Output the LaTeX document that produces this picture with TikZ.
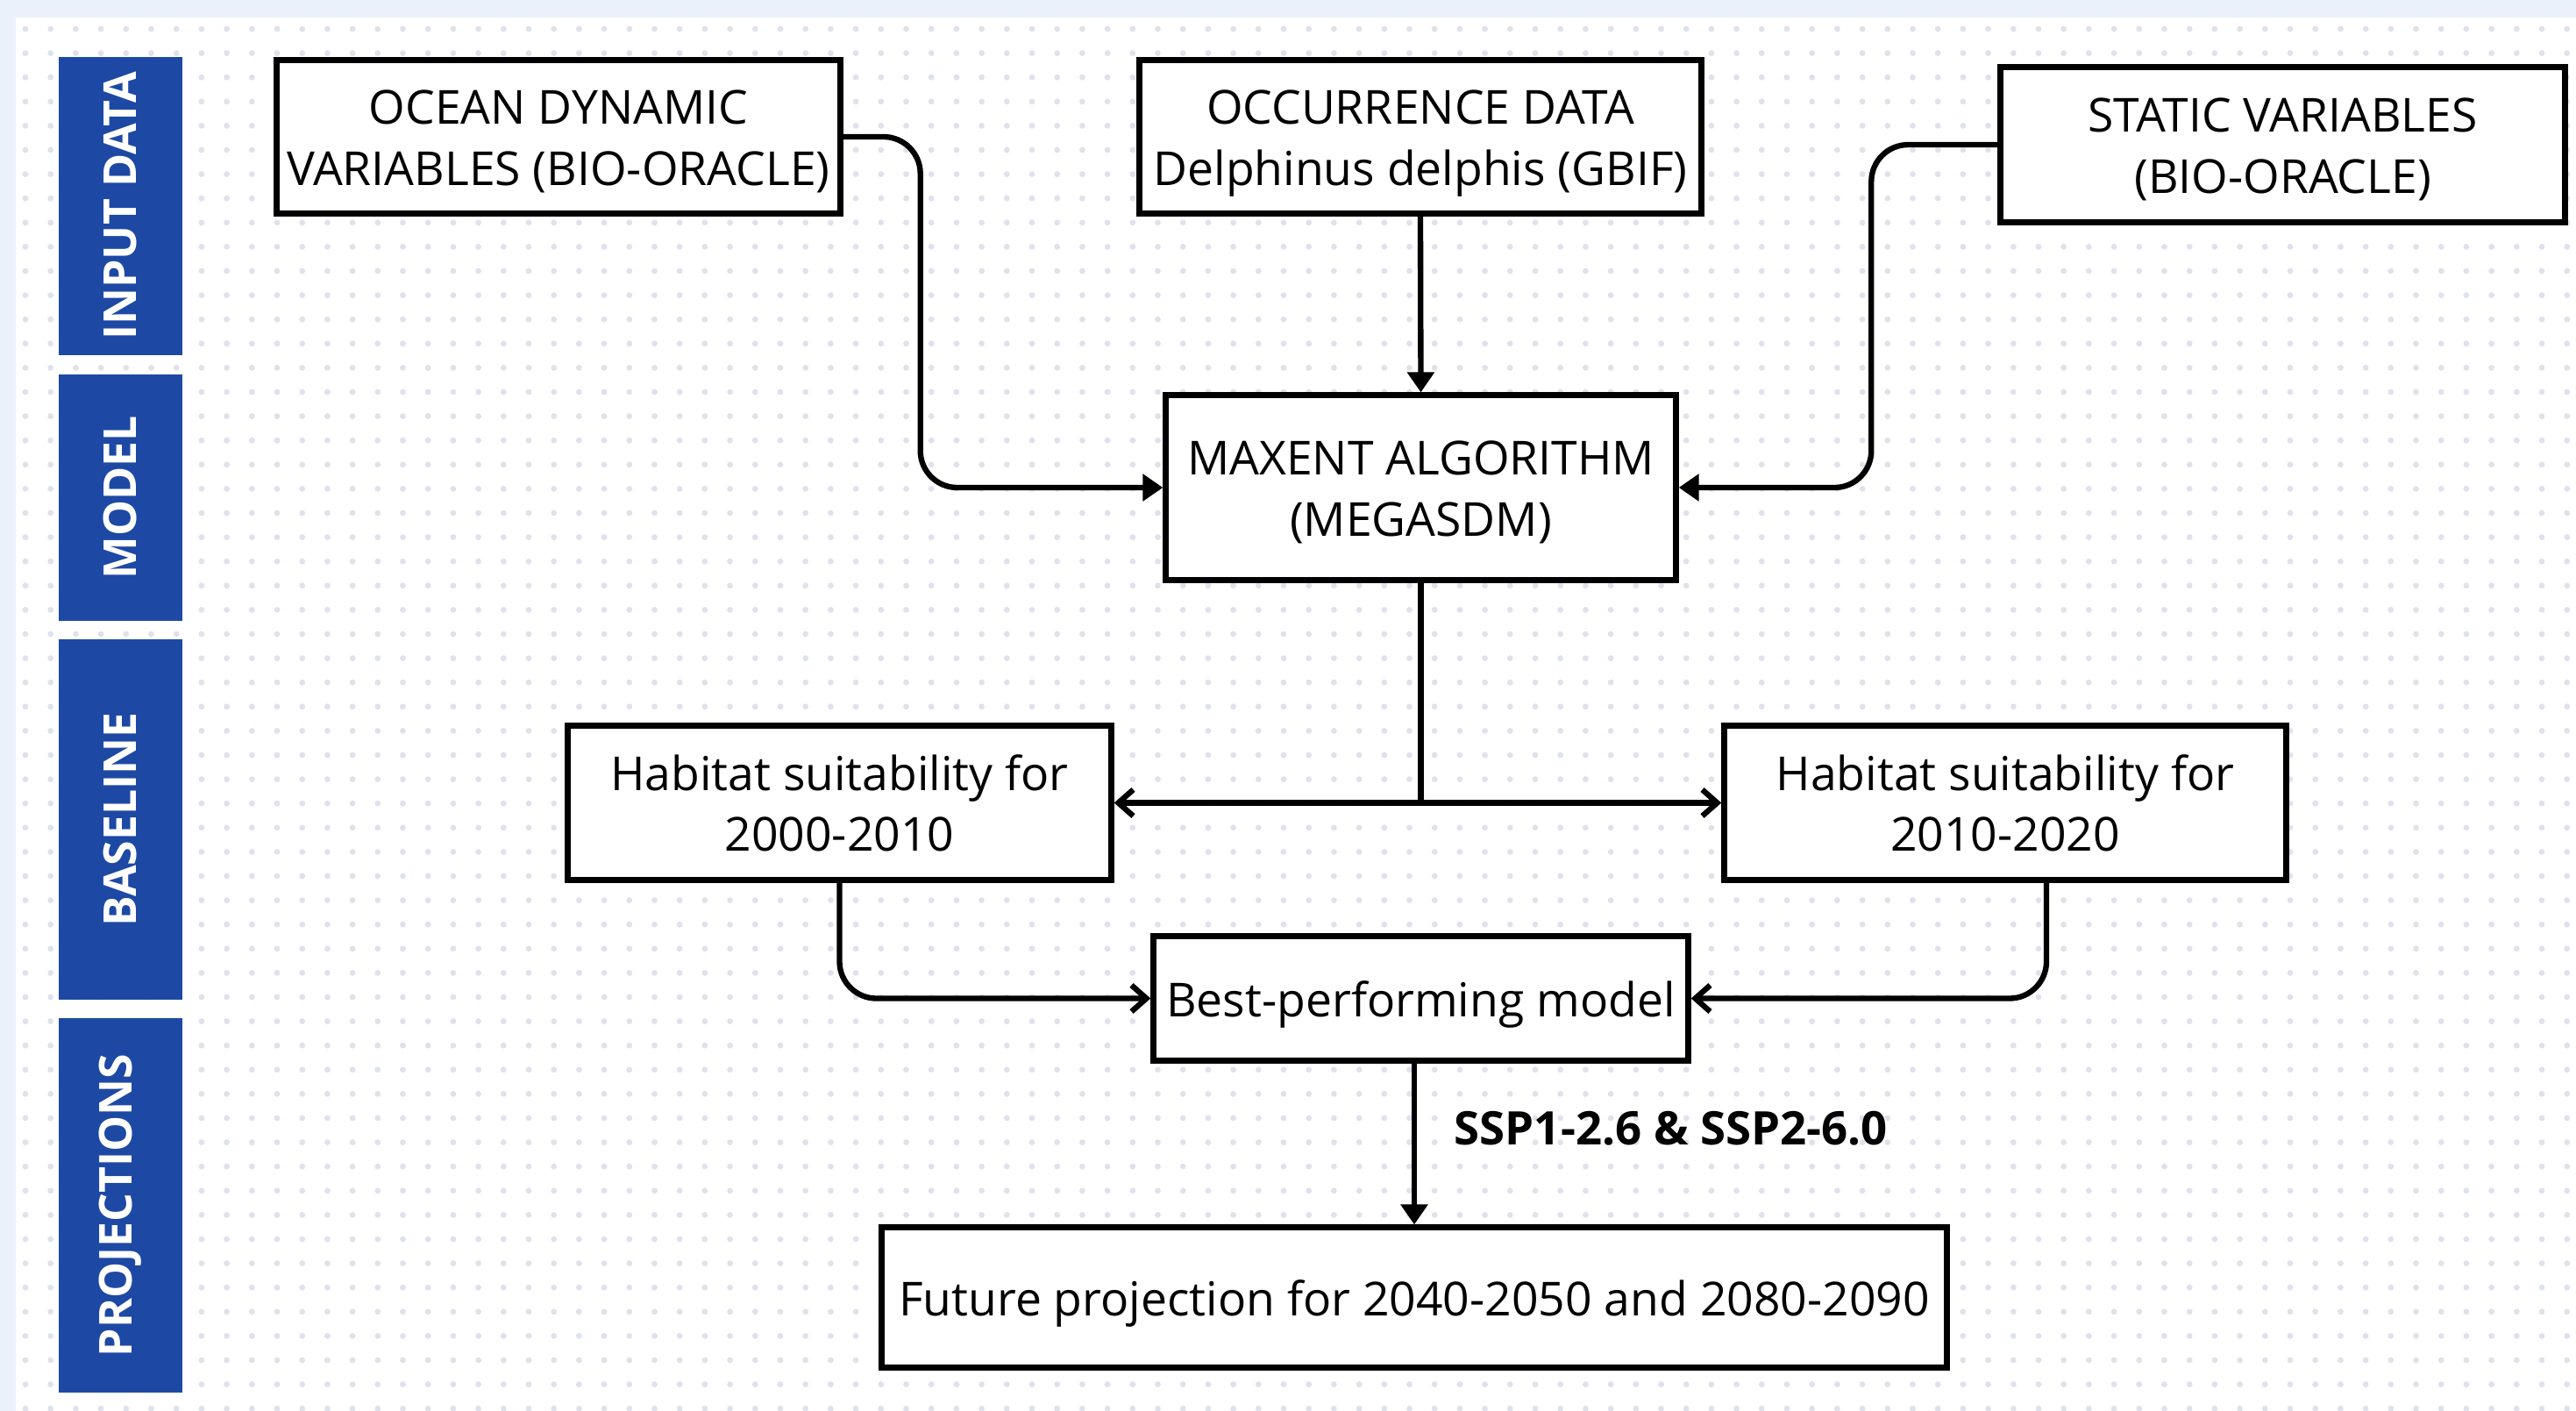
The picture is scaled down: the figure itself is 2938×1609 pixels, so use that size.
\documentclass[tikz,border=0pt]{standalone}
\usepackage{fontspec}
\setmainfont{Open Sans}
\usetikzlibrary{arrows.meta}
\definecolor{bandblue}{RGB}{29,73,165}
\definecolor{outerbg}{RGB}{234,241,250}
\definecolor{dotc}{RGB}{222,226,235}
\newcommand\bxt[1]{\raisebox{-0.065cm}[\height][\depth]{\begin{tabular}{@{}c@{}}#1\end{tabular}}}
\tikzset{
  box/.style={draw=black, line width=2pt, fill=white, inner sep=0pt,
    font=\fontsize{15.2pt}{19.9pt}\selectfont},
  band/.style={fill=bandblue, text=white, inner sep=0pt, rotate=90,
    minimum height=1.41cm, font=\bfseries\fontsize{14.7pt}{17pt}\selectfont},
  conn/.style={line width=1.8pt, draw=black, rounded corners=0.42cm},
  solidarr/.style={conn, -{Triangle[length=0.23cm,width=0.3cm]}},
  openarr/.style={conn, -{Straight Barb[length=0.17cm,width=0.3cm,line width=1.8pt]}},
  dblarr/.style={conn, {Straight Barb[length=0.17cm,width=0.3cm,line width=1.8pt]}-{Straight Barb[length=0.17cm,width=0.3cm,line width=1.8pt]}},
  lbl/.style={inner sep=0pt, font=\bfseries\fontsize{15pt}{18pt}\selectfont}
}
\begin{document}
\begin{tikzpicture}[x=0.01cm, y=-0.01cm]
\useasboundingbox (0,0) rectangle (2938,1609);
\fill[outerbg] (0,0) rectangle (2938,1609);
\fill[white] (18,20) rectangle (2938,1609);
\foreach \i in {0,...,101}{\foreach \j in {0,...,57}{\fill[dotc] ({29+\i*28.7},{33+\j*27.6}) circle (0.034cm);}}
% side bands
\node[band, minimum width=3.40cm] (b1) at (137.5,235) {INPUT DATA};
\node[band, minimum width=2.81cm] (b2) at (137.5,567.5) {MODEL};
\node[band, minimum width=4.11cm] (b3) at (137.5,934.5) {BASELINE};
\node[band, minimum width=4.27cm] (b4) at (137.5,1374.5) {PROJECTIONS};
% boxes
\node[box, minimum width=6.42cm, minimum height=1.74cm] (A) at (637,156) {\bxt{OCEAN DYNAMIC\\VARIABLES (BIO-ORACLE)}};
\node[box, minimum width=6.40cm, minimum height=1.74cm] (B) at (1620,156) {\bxt{OCCURRENCE DATA\\Delphinus delphis (GBIF)}};
\node[box, minimum width=6.43cm, minimum height=1.76cm] (C) at (2603.5,165) {\bxt{STATIC VARIABLES\\(BIO-ORACLE)}};
\node[box, minimum width=5.81cm, minimum height=2.10cm] (M) at (1620.5,556) {\bxt{MAXENT ALGORITHM\\(MEGASDM)}};
\node[box, minimum width=6.19cm, minimum height=1.75cm] (H1) at (957.5,915.5) {\bxt{Habitat suitability for\\2000-2010}};
\node[box, minimum width=6.40cm, minimum height=1.75cm] (H2) at (2287,915.5) {\bxt{Habitat suitability for\\2010-2020}};
\node[box, minimum width=6.09cm, minimum height=1.41cm] (Best) at (1620.5,1138.5) {\bxt{Best-performing model}};
\node[box, minimum width=12.14cm, minimum height=1.59cm] (F) at (1613,1479.5) {\bxt{Future projection for 2040-2050 and 2080-2090}};
\node[lbl, anchor=west] (ssp) at (1658,1287) {SSP1-2.6 \& SSP2-6.0};
% connectors
\draw[solidarr] (B.south) -- (M.north);
\draw[solidarr] (A.east) -- ++(88,0) |- (M.west);
\draw[solidarr] (C.west) -- ++(-144,0) |- (M.east);
\draw[conn] (M.south) -- (M.south |- H1.east);
\draw[dblarr] (H1.east) -- (H2.west);
\draw[openarr] (H1.south) |- (Best.west);
\draw[openarr] ([xshift=0.47cm]H2.south) |- (Best.east);
\draw[solidarr] (Best.south -| F.north) -- (F.north);
\end{tikzpicture}
\end{document}
